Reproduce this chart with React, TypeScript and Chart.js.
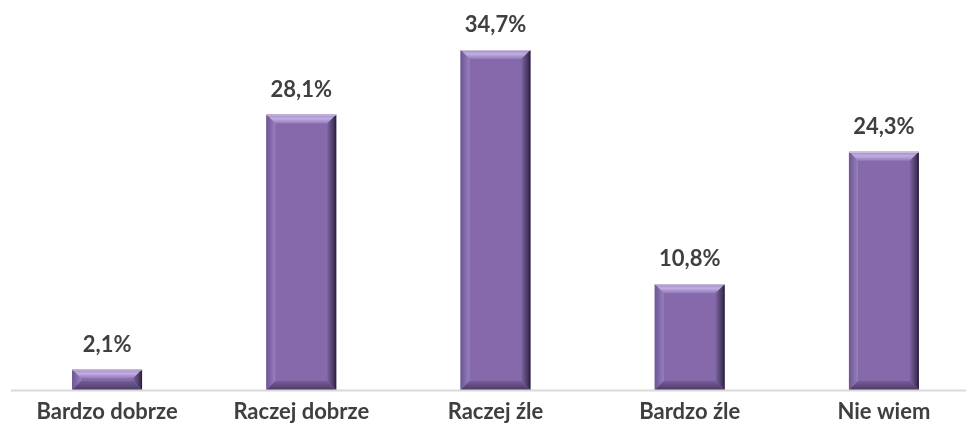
import React, { useEffect, useRef } from "react";
import { Chart, registerables } from "chart.js";

Chart.register(...registerables);

const categories = ["Bardzo dobrze", "Raczej dobrze", "Raczej źle", "Bardzo źle", "Nie wiem"];
const values = [2.1, 28.1, 34.7, 10.8, 24.3];
const yMax = 40;

const FACE = "#8669aa";
const TEXT = "#3f3f3f";
const FONT = "Lato, 'Open Sans', sans-serif";

function fmt(v: number) {
  return v.toFixed(1).replace(".", ",") + "%";
}

const bevelPlugin = {
  id: "bevel",
  afterDatasetsDraw(chart: any) {
    const ctx = chart.ctx as CanvasRenderingContext2D;
    const meta = chart.getDatasetMeta(0);
    ctx.save();
    meta.data.forEach((el: any, i: number) => {
      const w = el.width;
      const l = el.x - w / 2;
      const r = el.x + w / 2;
      const t = Math.min(el.y, el.base);
      const bo = Math.max(el.y, el.base);
      const b = Math.min(9, (bo - t) / 2);

      // top
      let g = ctx.createLinearGradient(0, t, 0, t + b);
      g.addColorStop(0, "#9d87c2");
      g.addColorStop(0.45, "#c2aee2");
      g.addColorStop(1, "#9279b9");
      ctx.fillStyle = g;
      ctx.beginPath();
      ctx.moveTo(l, t);
      ctx.lineTo(r, t);
      ctx.lineTo(r - b, t + b);
      ctx.lineTo(l + b, t + b);
      ctx.closePath();
      ctx.fill();

      // left
      g = ctx.createLinearGradient(l, 0, l + b, 0);
      g.addColorStop(0, "#6c5593");
      g.addColorStop(1, "#9880bc");
      ctx.fillStyle = g;
      ctx.beginPath();
      ctx.moveTo(l, t);
      ctx.lineTo(l + b, t + b);
      ctx.lineTo(l + b, bo - b);
      ctx.lineTo(l, bo);
      ctx.closePath();
      ctx.fill();

      // right
      g = ctx.createLinearGradient(r - b, 0, r, 0);
      g.addColorStop(0, "#7a649f");
      g.addColorStop(0.75, "#44345c");
      g.addColorStop(1, "#221a2e");
      ctx.fillStyle = g;
      ctx.beginPath();
      ctx.moveTo(r, t);
      ctx.lineTo(r, bo);
      ctx.lineTo(r - b, bo - b);
      ctx.lineTo(r - b, t + b);
      ctx.closePath();
      ctx.fill();

      // bottom
      g = ctx.createLinearGradient(0, bo - b, 0, bo);
      g.addColorStop(0, "#735d98");
      g.addColorStop(1, "#4a3a64");
      ctx.fillStyle = g;
      ctx.beginPath();
      ctx.moveTo(l, bo);
      ctx.lineTo(r, bo);
      ctx.lineTo(r - b, bo - b);
      ctx.lineTo(l + b, bo - b);
      ctx.closePath();
      ctx.fill();

      // top edge
      ctx.fillStyle = "#cfc6dc";
      ctx.fillRect(l, t, w, 1);

      // label
      ctx.fillStyle = TEXT;
      ctx.font = `bold 22px ${FONT}`;
      ctx.textAlign = "center";
      ctx.textBaseline = "middle";
      ctx.fillText(fmt(values[i]), el.x, t - 25);
    });

    // axis line
    const a = chart.chartArea;
    ctx.strokeStyle = "#d9d9d9";
    ctx.lineWidth = 2;
    ctx.beginPath();
    ctx.moveTo(a.left + 1, a.bottom + 0.5);
    ctx.lineTo(a.right, a.bottom + 0.5);
    ctx.stroke();
    ctx.restore();
  },
};

export default function App() {
  const ref = useRef<HTMLCanvasElement>(null);
  useEffect(() => {
    if (!ref.current) return;
    const chart = new Chart(ref.current, {
      type: "bar",
      data: {
        labels: categories,
        datasets: [
          {
            data: values,
            backgroundColor: FACE,
            borderWidth: 0,
            barPercentage: 0.36,
            categoryPercentage: 1,
          },
        ],
      },
      options: {
        responsive: false,
        animation: false,
        devicePixelRatio: 1,
        layout: { padding: { left: 10, right: 9, top: 8, bottom: 0 } },
        plugins: { legend: { display: false }, tooltip: { enabled: false } },
        scales: {
          y: { display: false, min: 0, max: yMax },
          x: {
            grid: { display: false, drawTicks: false },
            border: { display: false },
            ticks: {
              color: TEXT,
              font: { family: FONT, size: 22, weight: "bold" },
              padding: 9,
              maxRotation: 0,
              autoSkip: false,
            },
            afterFit(scale: any) {
              scale.height = 40;
            },
          },
        },
      },
      plugins: [bevelPlugin],
    });
    return () => chart.destroy();
  }, []);
  return (
    <div style={{ position: "fixed", left: 0, top: 0, width: 966, height: 430, overflow: "hidden", background: "#fff" }}>
      <canvas ref={ref} width={990} height={440} style={{ position: "absolute", left: 0, top: -10, width: 990, height: 440 }} />
    </div>
  );
}
